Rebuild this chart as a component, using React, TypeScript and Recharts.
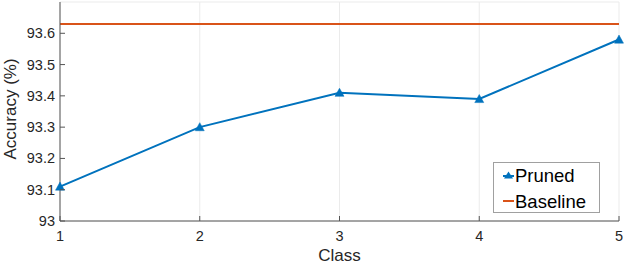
import React from 'react';
import { LineChart, Line, XAxis, YAxis, CartesianGrid } from 'recharts';

const classes = [1, 2, 3, 4, 5];
const prunedAccuracy = [93.11, 93.3, 93.41, 93.39, 93.58];
const baselineAccuracy = [93.63, 93.63, 93.63, 93.63, 93.63];
const yTicks = [93, 93.1, 93.2, 93.3, 93.4, 93.5, 93.6];
const xTicks = [1, 2, 3, 4, 5];

const data = classes.map((c, i) => ({ cls: c, pruned: prunedAccuracy[i], baseline: baselineAccuracy[i] }));

const BLUE = '#0072BD';
const ORANGE = '#D95319';
const AXIS = '#555555';
const FONT = '"Liberation Sans", Arial, sans-serif';

const Triangle = (props: any) => {
  const { cx, cy } = props;
  if (cx == null || cy == null) return null;
  const s = 4.5;
  return <path d={`M${cx},${cy - s} L${cx + s},${cy + s * 0.8} L${cx - s},${cy + s * 0.8} Z`} fill={BLUE} stroke={BLUE} strokeWidth={0.5} />;
};

const LeftTick = (props: any) => {
  const { x, y, payload } = props;
  const ax = x + 5;
  return (
    <g>
      <line x1={ax} x2={ax + 5} y1={y} y2={y} stroke={AXIS} strokeWidth={1} />
      <text x={x} y={y} dy={5} textAnchor="end" fill="#262626" fontSize={14.5} fontFamily={FONT}>
        {payload.value}
      </text>
    </g>
  );
};

const BottomTick = (props: any) => {
  const { x, y, payload } = props;
  const ay = y - 6;
  return (
    <g>
      <line x1={x} x2={x} y1={ay} y2={ay - 5} stroke={AXIS} strokeWidth={1} />
      <text x={x} y={y} dy={14} textAnchor="middle" fill="#262626" fontSize={14.5} fontFamily={FONT}>
        {payload.value}
      </text>
    </g>
  );
};

const TopTick = (props: any) => {
  const { x, y } = props;
  return <line x1={x} x2={x} y1={y} y2={y + 5} stroke={AXIS} strokeWidth={1} />;
};

const RightTick = (props: any) => {
  const { x, y } = props;
  return <line x1={x} x2={x - 5} y1={y} y2={y} stroke={AXIS} strokeWidth={1} />;
};

const legendItems = ['Pruned', 'Baseline'];

const LegendBox = () => (
  <svg width={108} height={52} style={{ position: 'absolute', left: 493, top: 162 }}>
    <rect x={0.5} y={0.5} width={106} height={50} fill="#fff" stroke="#a0a0a0" strokeWidth={1} />
    <line x1={10} x2={21} y1={14} y2={14} stroke={BLUE} strokeWidth={2} />
    <path d="M15.5,9.5 L20,16.5 L11,16.5 Z" fill={BLUE} />
    <text x={22} y={20} fontSize={18.5} fontFamily={FONT} fill="#000">{legendItems[0]}</text>
    <line x1={10} x2={21} y1={39} y2={39} stroke={ORANGE} strokeWidth={2} />
    <text x={22} y={45.5} fontSize={18.5} fontFamily={FONT} fill="#000">{legendItems[1]}</text>
  </svg>
);

export default function App() {
  return (
    <div style={{ position: 'absolute', left: 0, top: 0, width: 624, height: 264, background: '#fff' }}>
      <LineChart width={624} height={264} data={data} margin={{ top: 2, right: 5, bottom: 0, left: 10 }}>
        <CartesianGrid stroke="#ebebeb" strokeWidth={1} vertical horizontal />
        <XAxis
          xAxisId="bottom"
          dataKey="cls"
          type="number"
          domain={[1, 5]}
          ticks={xTicks}
          height={43}
          axisLine={{ stroke: AXIS }}
          tickLine={false}
          tickSize={0}
          tickMargin={6}
          tick={<BottomTick />}
          label={{ value: 'Class', position: 'insideBottom', offset: 3, fill: '#262626', fontSize: 17, fontFamily: FONT }}
        />
        <XAxis
          xAxisId="top"
          dataKey="cls"
          type="number"
          domain={[1, 5]}
          ticks={xTicks}
          orientation="top"
          height={0}
          axisLine={{ stroke: AXIS }}
          tickLine={false}
          tickSize={0}
          tickMargin={0}
          tick={<TopTick />}
        />
        <YAxis
          yAxisId="left"
          domain={[93, 93.7]}
          ticks={yTicks}
          width={50}
          axisLine={{ stroke: AXIS }}
          tickLine={false}
          tickSize={0}
          tickMargin={5}
          tick={<LeftTick />}
          allowDataOverflow
          label={{ value: 'Accuracy (%)', angle: -90, position: 'insideLeft', offset: 0, dy: 48, fill: '#262626', fontSize: 17, fontFamily: FONT }}
        />
        <YAxis
          yAxisId="right"
          orientation="right"
          domain={[93, 93.7]}
          ticks={yTicks}
          width={0}
          axisLine={{ stroke: AXIS }}
          tickLine={false}
          tickSize={0}
          tickMargin={0}
          tick={<RightTick />}
          allowDataOverflow
        />
        <Line
          xAxisId="bottom"
          yAxisId="left"
          dataKey="baseline"
          stroke={ORANGE}
          strokeWidth={2}
          dot={false}
          isAnimationActive={false}
        />
        <Line
          xAxisId="bottom"
          yAxisId="left"
          dataKey="pruned"
          stroke={BLUE}
          strokeWidth={2}
          dot={<Triangle />}
          isAnimationActive={false}
        />
      </LineChart>
      <LegendBox />
    </div>
  );
}
